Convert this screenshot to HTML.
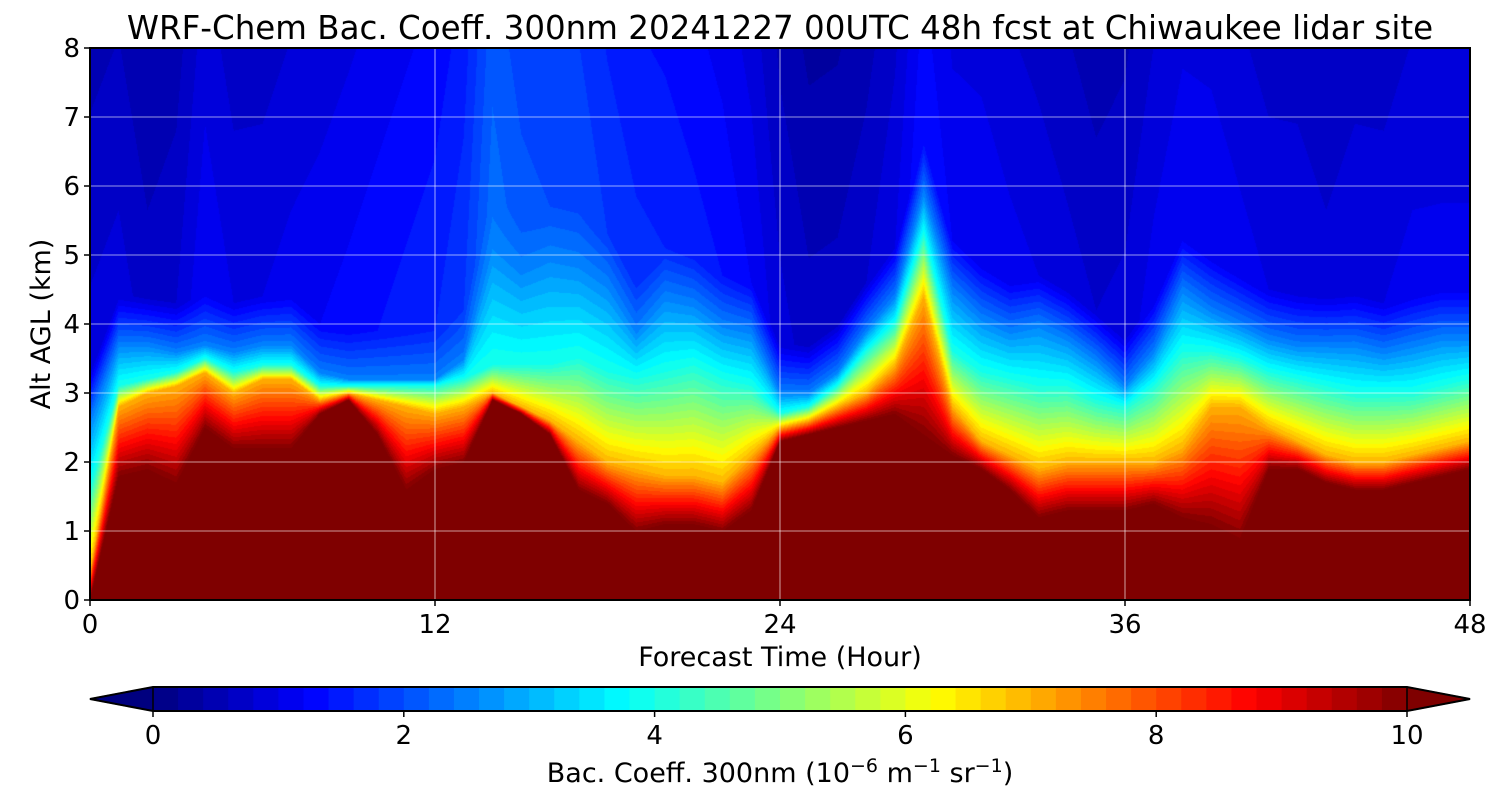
<!DOCTYPE html>
<html><head><meta charset="utf-8">
<style>
body{margin:0;background:#fff;font-family:"DejaVu Sans","Liberation Sans",sans-serif;}
#wrap{position:relative;width:1500px;height:800px;overflow:hidden;}
canvas{position:absolute;left:90px;top:48px;}
svg{position:absolute;left:0;top:0;font-family:"DejaVu Sans","Liberation Sans",sans-serif;}
</style></head><body>
<div id="wrap">
<canvas id="cv" width="1380" height="552"></canvas>
<svg id="sv" width="1500" height="800"></svg>
</div>
<script>
// hourly profile parameters (km)
const hours=[0,1,2,3,4,5,6,7,8,9,10,11,12,13,14,15,16,17,18,19,20,21,22,23,24,25,26,27,28,29,30,31,32,33,34,35,36,37,38,39,40,41,42,43,44,45,46,47,48];
const top10=[0,1.8,1.9,1.7,2.5,2.2,2.2,2.2,2.7,2.9,2.4,1.6,1.9,2.0,2.9,2.7,2.4,1.6,1.4,1.0,1.1,1.1,1.0,1.3,2.3,2.4,2.5,2.6,2.7,2.4,2.1,1.9,1.6,1.2,1.3,1.3,1.3,1.4,1.2,1.1,0.9,1.9,1.9,1.7,1.6,1.6,1.7,1.8,1.9];
const top6=[0.4,2.8,3.0,3.1,3.3,3.0,3.2,3.2,2.9,3.0,2.9,2.8,2.7,2.8,3.0,2.8,2.6,2.3,2.0,1.9,1.8,1.8,1.7,2.1,2.5,2.6,2.8,3.0,3.4,4.4,2.8,2.3,2.1,1.9,2.0,2.0,2.0,2.0,2.2,2.8,2.8,2.5,2.3,2.1,2.0,2.0,2.1,2.2,2.3];
const top35=[1.6,3.1,3.2,3.3,3.5,3.3,3.4,3.4,3.1,3.1,3.1,3.1,3.1,3.2,3.4,3.4,3.4,3.5,3.3,3.2,3.3,3.4,3.2,3.1,2.7,2.8,3.1,3.6,4.0,5.3,3.6,3.3,3.2,3.1,3.1,2.9,2.8,3.1,3.6,3.6,3.5,3.3,3.2,3.1,3.0,3.0,3.0,3.1,3.2];
const topAer=[2.6,3.7,3.7,3.6,3.7,3.6,3.7,3.7,3.3,3.2,3.2,3.2,3.2,3.5,5.2,4.8,5.0,4.9,4.6,3.9,4.4,4.3,4.0,3.9,3.0,3.0,3.3,3.9,4.4,5.9,4.5,4.1,3.9,4.0,3.8,3.5,3.1,3.6,4.5,4.2,4.0,3.8,3.7,3.7,3.7,3.6,3.7,3.8,3.8];
const upperVal=[0.9,0.9,0.7,0.8,1.2,1.0,1.0,1.1,1.2,1.3,1.4,1.5,1.6,1.8,2.3,2.1,2.0,2.0,1.8,1.7,1.6,1.5,1.4,1.2,0.9,0.7,0.7,0.8,1.0,1.4,1.2,1.2,1.1,1.0,0.9,0.8,0.9,1.1,1.2,1.2,1.1,1.0,1.0,0.9,1.0,1.0,1.1,1.1,1.1];
const xTicks=[0,12,24,36,48];
const yTicks=[0,1,2,3,4,5,6,7,8];
const cbTicks=[0,2,4,6,8,10];

const X0=90,X1=1470,Y0=600,Y1=48;
const xs=h=>X0+(h/48)*(X1-X0);
const ys=z=>Y0-(z/8)*(Y0-Y1);
function jet(v){
  const r=Math.min(Math.max(Math.min(4*v-1.5,-4*v+4.5),0),1);
  const g=Math.min(Math.max(Math.min(4*v-0.5,-4*v+3.5),0),1);
  const b=Math.min(Math.max(Math.min(4*v+0.5,-4*v+2.5),0),1);
  return [r*255|0,g*255|0,b*255|0];
}
function lerpArr(a,h){const i=Math.min(Math.floor(h),a.length-2);const f=h-i;return a[i]*(1-f)+a[i+1]*f;}
function field(h,z){
  const a=lerpArr(top10,h),b=Math.max(lerpArr(top6,h),a+0.05),c=Math.max(lerpArr(top35,h),b+0.05),d=Math.max(lerpArr(topAer,h),c+0.05),u=lerpArr(upperVal,h);
  if(z<a)return 10;
  if(z<b)return 10-3*(z-a)/(b-a);
  if(z<c)return 7-3*(z-b)/(c-b);
  if(z<d)return 4-1.5*(z-c)/(d-c);
  const e=d+0.7;
  if(z<e)return 2.5-(2.5-u)*(z-d)/0.7;
  return u-(z-e)*0.08;
}
const cv=document.getElementById('cv'),ctx=cv.getContext('2d');
const W=cv.width,H=cv.height,img=ctx.createImageData(W,H);
for(let px=0;px<W;px++){const h=(px+0.5)/W*48;
  for(let py=0;py<H;py++){const z=(H-py-0.5)/H*8;
    let v=field(h,z);v=Math.max(0,Math.min(10,v));v=Math.floor(v*5)/5+0.1;
    const c=jet(Math.min(v/10,1));const k=(py*W+px)*4;
    img.data[k]=c[0];img.data[k+1]=c[1];img.data[k+2]=c[2];img.data[k+3]=255;}}
ctx.putImageData(img,0,0);

const NS='http://www.w3.org/2000/svg',sv=document.getElementById('sv');
function mk(t,at,txt){const e=document.createElementNS(NS,t);for(const k in at)e.setAttribute(k,at[k]);if(txt!==undefined)e.textContent=txt;sv.appendChild(e);return e;}
yTicks.forEach(z=>{
  const g=mk('line',{x1:X0,x2:X1,y1:ys(z),y2:ys(z),stroke:'#fff','stroke-width':0.8,'stroke-opacity':0.8});
  
  const t=mk('line',{x1:X0-6,x2:X0,y1:ys(z),y2:ys(z),stroke:'#000','stroke-width':1.5});
  
  const l=mk('text',{x:X0-10,y:ys(z)+9,'text-anchor':'end','font-size':26},z);
  
});
xTicks.forEach(h=>{
  const g=mk('line',{x1:xs(h),x2:xs(h),y1:Y0,y2:Y1,stroke:'#fff','stroke-width':0.8,'stroke-opacity':0.8});
  
  const t=mk('line',{x1:xs(h),x2:xs(h),y1:Y0,y2:Y0+6,stroke:'#000','stroke-width':1.5});
  
  const l=mk('text',{x:xs(h),y:Y0+33,'text-anchor':'middle','font-size':26},h);
  
});
const fr=mk('rect',{x:X0,y:Y1,width:X1-X0,height:Y0-Y1,fill:'none',stroke:'#000','stroke-width':2});

const ti=mk('text',{x:780,y:39,'text-anchor':'middle','font-size':32.5,'xml:space':'preserve'},'WRF-Chem Bac. Coeff. 300nm  20241227 00UTC 48h fcst at Chiwaukee lidar site');

const xt=mk('text',{x:780,y:666,'text-anchor':'middle','font-size':27},'Forecast Time (Hour)');

const yt=mk('text',{x:0,y:0,'text-anchor':'middle','font-size':27,transform:'translate(50,324) rotate(-90)'},'Alt AGL (km)');


const C0=153,C1=1407,CT=687,CB=711;
const cx=v=>C0+(v/10)*(C1-C0);
for(let i=0;i<50;i++){const v=i*0.2;const c=jet((v+0.1)/10);
  const r=mk('rect',{x:cx(v),y:CT,width:(C1-C0)/50+0.6,height:CB-CT,fill:`rgb(${c})`});
  }
const lc=jet(0),rc=jet(1);
const tl=mk('polygon',{points:`${C0},${CT} ${C0},${CB} 90,${(CT+CB)/2}`,fill:`rgb(${lc})`,stroke:'#000','stroke-width':1.5});

const tr=mk('polygon',{points:`${C1},${CT} ${C1},${CB} 1470,${(CT+CB)/2}`,fill:`rgb(${rc})`,stroke:'#000','stroke-width':1.5});

const cf=mk('polygon',{points:`90,${(CT+CB)/2} ${C0},${CT} ${C1},${CT} 1470,${(CT+CB)/2} ${C1},${CB} ${C0},${CB}`,fill:'none',stroke:'#000','stroke-width':2});

cbTicks.forEach(v=>{
  const t=mk('line',{x1:cx(v),x2:cx(v),y1:CB,y2:CB+6,stroke:'#000','stroke-width':1.5});
  
  const l=mk('text',{x:cx(v),y:CB+33,'text-anchor':'middle','font-size':26},v);
  
});
const cl=mk('text',{x:780,y:782,'text-anchor':'middle','font-size':27,'xml:space':'preserve'});

cl.innerHTML='Bac. Coeff. 300nm  (10<tspan dy="-10" font-size="19">−6</tspan><tspan dy="10"> m</tspan><tspan dy="-10" font-size="19">−1</tspan><tspan dy="10"> sr</tspan><tspan dy="-10" font-size="19">−1</tspan><tspan dy="10">)</tspan>';
</script>
</body></html>
